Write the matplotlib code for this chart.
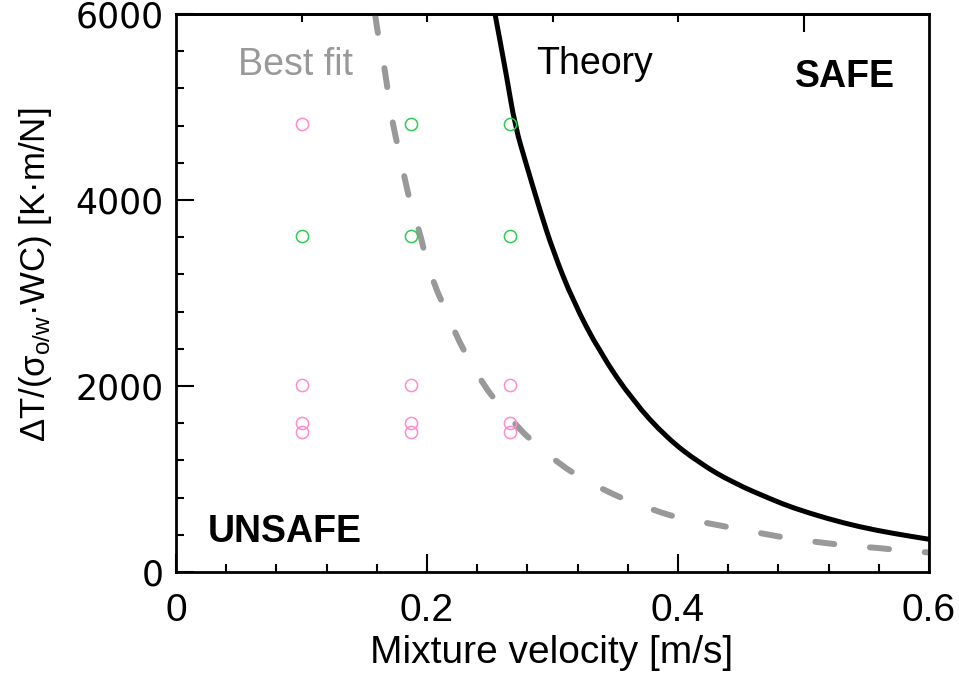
import numpy as np
import matplotlib
matplotlib.use("Agg")
import matplotlib.pyplot as plt
from matplotlib.ticker import MultipleLocator
from matplotlib.path import Path
from matplotlib.patches import PathPatch

# ==========================================
# Data
# ==========================================
# Theory curve (solid black)
theory_v = [0.2542, 0.2635, 0.2701, 0.2794, 0.2900, 0.3004, 0.3163, 0.3378,
            0.3641, 0.3912, 0.4175, 0.4438, 0.4757, 0.4916, 0.5187, 0.5450,
            0.5713, 0.6000]
theory_t = [6000, 5326, 4800, 4370, 3890, 3455, 2915, 2360,
            1840, 1440, 1168, 960, 774, 690, 575, 484,
            415, 352]

# Best fit curve (dashed grey)
fit_v = [0.1586, 0.1612, 0.1665, 0.1689, 0.1729, 0.1769, 0.1825, 0.1865,
         0.1944, 0.1984, 0.2064, 0.2143, 0.2237, 0.2327, 0.2462, 0.2562,
         0.2741, 0.2876, 0.3076, 0.3235, 0.3458, 0.3633, 0.3873, 0.4016,
         0.4733, 0.4916, 0.5171, 0.5371, 0.5610, 0.5809, 0.6000]
fit_t = [6000, 5756, 5398, 5151, 4806, 4570, 4215, 3978,
         3645, 3409, 3065, 2839, 2530, 2301, 1989, 1820,
         1527, 1366, 1140, 1011, 849, 753, 634, 581,
         398, 355, 312, 280, 258, 226, 210]

# Experiments: stable (green) and unstable (pink)
stable_v = [0.1875, 0.2665, 0.1000, 0.1875, 0.2665]
stable_t = [4817, 4817, 3616, 3616, 3616]
unstable_v = [0.1000, 0.1000, 0.1875, 0.2665, 0.1000, 0.1875, 0.2665,
              0.1000, 0.1875, 0.2665]
unstable_t = [4817, 2008, 2008, 2008, 1605, 1605, 1605, 1502, 1502, 1502]

x_ticks = [0, 0.2, 0.4, 0.6]
x_ticklabels = ['0', '0.2', '0.4', '0.6']
y_ticks = [0, 2000, 4000, 6000]
y_ticklabels = ['0', '2000', '4000', '6000']


def smooth_path(xs, ys):
    # quadratic Bezier through the midpoints, read points act as control points
    pts = list(zip(xs, ys))
    verts = [pts[0]]
    codes = [Path.MOVETO]
    mid = ((pts[0][0] + pts[1][0]) / 2, (pts[0][1] + pts[1][1]) / 2)
    verts.append(mid)
    codes.append(Path.LINETO)
    for i in range(1, len(pts) - 1):
        nxt = ((pts[i][0] + pts[i + 1][0]) / 2, (pts[i][1] + pts[i + 1][1]) / 2)
        verts += [pts[i], nxt]
        codes += [Path.CURVE3, Path.CURVE3]
    verts.append(pts[-1])
    codes.append(Path.LINETO)
    return Path(verts, codes)


plt.rcParams['mathtext.fontset'] = 'custom'
plt.rcParams['mathtext.rm'] = 'Liberation Sans'
plt.rcParams['mathtext.default'] = 'regular'

W, H = 959, 678
fig = plt.figure(figsize=(W / 100, H / 100), dpi=100)
ax = fig.add_axes([176 / W, 1 - 572 / H, 753 / W, 558 / H])

fit_patch = PathPatch(smooth_path(fit_v, fit_t), fill=False, edgecolor='#999999',
                      lw=4.3, linestyle=(0, (3.2, 6.0)), capstyle='round', zorder=2)
ax.add_patch(fit_patch)
theory_patch = PathPatch(smooth_path(theory_v, theory_t), fill=False, edgecolor='black',
                         lw=3.6, capstyle='butt', joinstyle='round', zorder=3)
ax.add_patch(theory_patch)

ax.plot(stable_v, stable_t, 'o', ms=8.8, mfc='none', mec='#2ecc55', mew=1.1, zorder=4)
ax.plot(unstable_v, unstable_t, 'o', ms=8.8, mfc='none', mec='#ff8ccc', mew=1.1, zorder=4)

ax.set_xlim(0, 0.6)
ax.set_ylim(0, 6000)
ax.xaxis.set_minor_locator(MultipleLocator(0.04))
ax.yaxis.set_minor_locator(MultipleLocator(400))

ax.tick_params(which='both', direction='in', top=False, right=False, width=1.5)
ax.tick_params(which='major', length=13)
ax.tick_params(which='minor', length=6)
ax.tick_params(axis='x', which='major', pad=15)
ax.tick_params(axis='y', which='major', pad=9)

ax.set_xticks(x_ticks)
ax.set_xticklabels(x_ticklabels, fontfamily='Liberation Sans', fontsize=28)
ax.set_yticks(y_ticks)
ax.set_yticklabels(y_ticklabels, fontfamily='DejaVu Sans', fontsize=25)

for s in ax.spines.values():
    s.set_linewidth(2.0)

# ticks on the top edge
top = ax.secondary_xaxis('top')
top.set_xticks([0.5])
top.set_xticks([0.1, 0.2, 0.3, 0.4], minor=True)
top.tick_params(which='both', direction='in', labeltop=False, width=1.5)
top.tick_params(which='major', length=13)
top.tick_params(which='minor', length=6)
top.spines['top'].set_linewidth(2.0)

# annotations
ax.text(0.0494, 5344, 'Best fit', color='#999999', fontsize=27,
        fontfamily='Liberation Sans', va='baseline')
ax.text(0.2869, 5350, 'Theory', color='black', fontsize=27,
        fontfamily='Liberation Sans', va='baseline')
ax.text(0.4932, 5215, 'SAFE', color='black', fontsize=27, fontweight='bold',
        fontfamily='Liberation Sans', va='baseline')
ax.text(0.0255, 323, 'UNSAFE', color='black', fontsize=27, fontweight='bold',
        fontfamily='Liberation Sans', va='baseline')

fig.text(552 / W, 1 - 653 / H, 'Mixture velocity [m/s]', ha='center', va='center',
         fontfamily='Liberation Sans', fontsize=28)
fig.text(36 / W, 1 - 275 / H, r'ΔT/(σ$_{o/w}$·WC) [K·m/N]', ha='center', va='center',
         rotation=90, fontfamily='Liberation Sans', fontsize=25)

fig.savefig('out.png', dpi=100)
